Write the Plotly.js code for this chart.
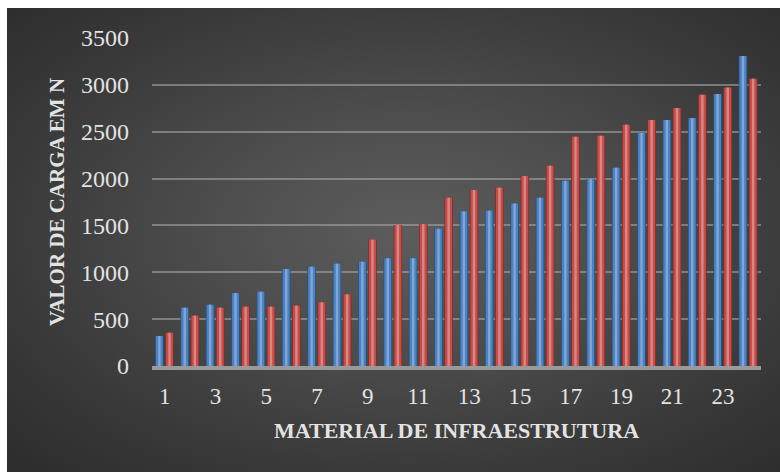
<!DOCTYPE html>
<html>
<head>
<meta charset="utf-8">
<script src="https://cdn.plot.ly/plotly-3.0.1.min.js"></script>
<style>
  html, body { margin: 0; padding: 0; background: #ffffff; }
  #wrap { position: relative; width: 780px; height: 472px; overflow: hidden; }
  #bg {
    position: absolute; left: 7px; top: 8px; right: 0; bottom: 0;
    background: radial-gradient(ellipse farthest-corner at 52% 48%, #5d5d5d 0%, #4d4d4d 35%, #3a3a3a 70%, #2c2c2c 100%);
  }
  #chart { position: absolute; left: 0; top: 0; width: 780px; height: 472px; }
</style>
</head>
<body>
<div id="wrap">
  <div id="bg"></div>
  <div id="chart"></div>
</div>
<script>
// Load values (N) for each infrastructure material, two test series
const materials = [1,2,3,4,5,6,7,8,9,10,11,12,13,14,15,16,17,18,19,20,21,22,23,24];
const serieAzul = [320, 622, 654, 779, 793, 1035, 1060, 1092, 1113, 1150, 1150, 1465,
                   1650, 1657, 1735, 1796, 1977, 1995, 2116, 2489, 2625, 2646, 2902, 3307];
const serieVermelha = [355, 537, 622, 633, 633, 644, 680, 765, 1348, 1504, 1515, 1796,
                       1878, 1903, 2027, 2137, 2447, 2457, 2575, 2625, 2753, 2895, 2973, 3065];
const xTicks = [1,3,5,7,9,11,13,15,17,19,21,23];
const yTicks = [0,500,1000,1500,2000,2500,3000,3500];

const serifFont = '"Liberation Serif", "DejaVu Serif", serif';

// Each series is drawn as a shaded cylinder: dark rim, main tone, bright highlight
function cylinder(values, name, offset, width, shades) {
  const layers = [
    { w: width, c: shades[0] },
    { w: width * 0.8, c: shades[1] },
    { w: width * 0.28, c: shades[2] }
  ];
  return layers.map((l, i) => ({
    type: 'bar',
    name: name,
    x: materials,
    y: values,
    width: l.w,
    offset: offset + (width - l.w) / 2,
    marker: { color: l.c, line: { width: 0 } },
    showlegend: false,
    hoverinfo: i === 0 ? 'x+y' : 'skip'
  }));
}

const barW = 0.34;
const traces = [
  ...cylinder(serieAzul, 'Série 1', -0.38, barW, ['#2c5284', '#4f81bd', '#7ea6d8']),
  ...cylinder(serieVermelha, 'Série 2', 0.02, barW, ['#872d2a', '#c0504d', '#dc8583'])
];

const layout = {
  width: 780,
  height: 472,
  paper_bgcolor: 'rgba(0,0,0,0)',
  plot_bgcolor: 'rgba(0,0,0,0)',
  margin: { l: 152, r: 19, t: 38, b: 106, pad: 0 },
  barmode: 'overlay',
  showlegend: false,
  font: { family: serifFont, color: '#e3e3e3' },
  xaxis: {
    range: [0.5, 24.5],
    tickvals: xTicks,
    ticktext: xTicks.map(String),
    tickfont: { family: serifFont, size: 23, color: '#e3e3e3' },
    ticks: '',
    ticklabelstandoff: 6,
    showgrid: false,
    zeroline: false,
    showline: true,
    linecolor: '#9a9a9a',
    linewidth: 4,
    title: {
      text: 'MATERIAL DE INFRAESTRUTURA',
      font: { family: serifFont, size: 22, color: '#e3e3e3', weight: 'bold' },
      standoff: 16
    }
  },
  yaxis: {
    range: [0, 3500],
    tickvals: yTicks,
    tickfont: { family: serifFont, size: 24, color: '#e3e3e3' },
    ticks: '',
    ticklabelstandoff: 22,
    showgrid: true,
    gridcolor: 'rgba(165,165,165,0.6)',
    gridwidth: 2,
    zeroline: false,
    showline: false,
    title: {
      text: 'VALOR DE CARGA EM N',
      font: { family: serifFont, size: 21, color: '#e3e3e3', weight: 'bold' },
      standoff: 10
    }
  }
};

Plotly.newPlot('chart', traces, layout, { displayModeBar: false, staticPlot: true });
</script>
</body>
</html>
